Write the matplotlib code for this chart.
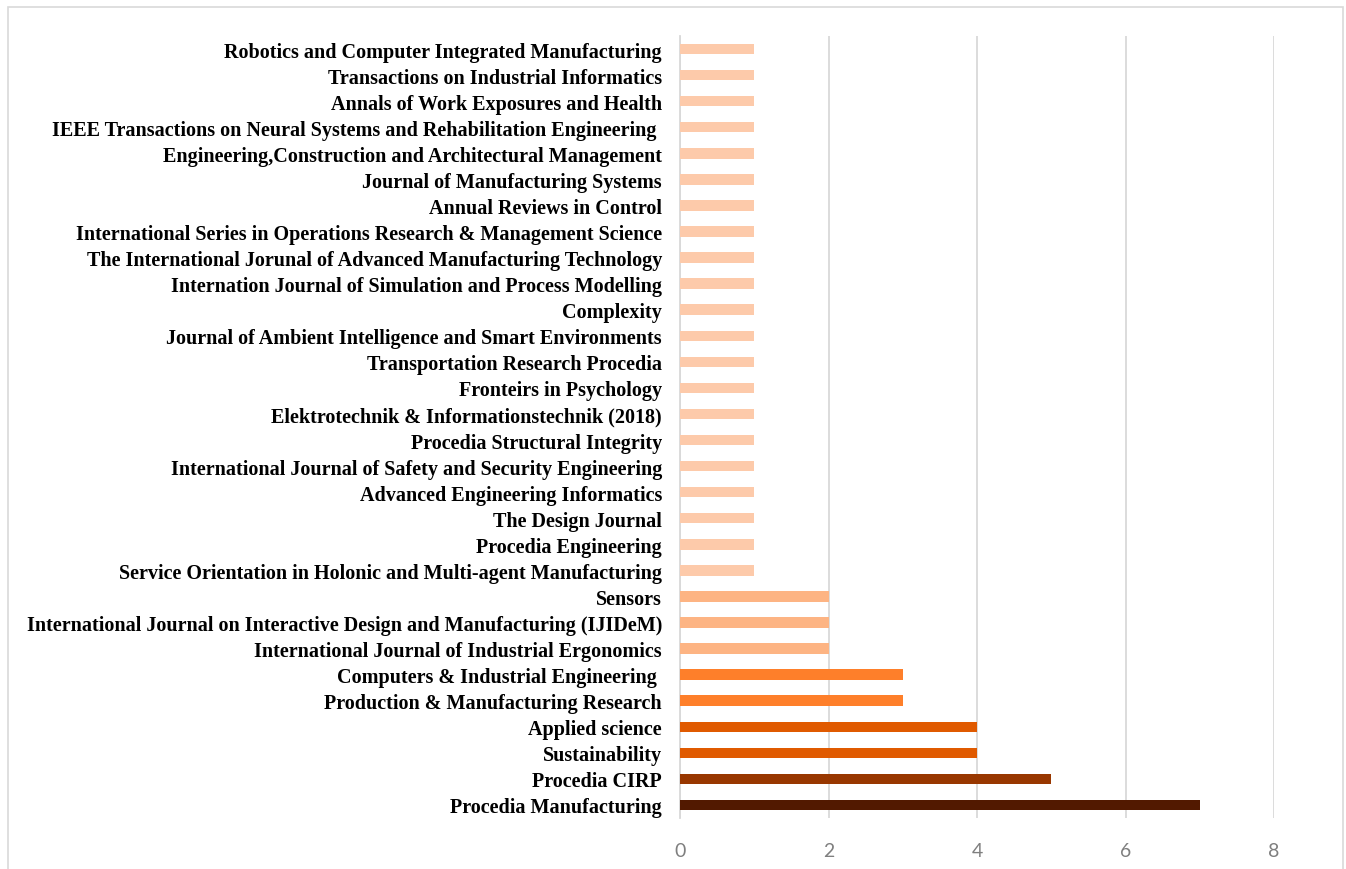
import matplotlib.pyplot as plt
from matplotlib.patches import Rectangle

# journals, bottom to top
journals = [
    'Procedia Manufacturing',
    'Procedia CIRP',
    'Sustainability',
    'Applied science',
    'Production & Manufacturing Research',
    'Computers & Industrial Engineering ',
    'International Journal of Industrial Ergonomics',
    'International Journal on Interactive Design and Manufacturing (IJIDeM)',
    'Sensors',
    'Service Orientation in Holonic and Multi-agent Manufacturing',
    'Procedia Engineering',
    'The Design Journal',
    'Advanced Engineering Informatics',
    'International Journal of Safety and Security Engineering',
    'Procedia Structural Integrity',
    'Elektrotechnik & Informationstechnik (2018)',
    'Fronteirs in Psychology',
    'Transportation Research Procedia',
    'Journal of Ambient Intelligence and Smart Environments',
    'Complexity',
    'Internation Journal of Simulation and Process Modelling',
    'The International Jorunal of Advanced Manufacturing Technology',
    'International Series in Operations Research & Management Science',
    'Annual Reviews in Control',
    'Journal of Manufacturing Systems',
    'Engineering,Construction and Architectural Management',
    'IEEE Transactions on Neural Systems and Rehabilitation Engineering ',
    'Annals of Work Exposures and Health',
    'Transactions on Industrial Informatics',
    'Robotics and Computer Integrated Manufacturing',
]
counts = [7, 5, 4, 4, 3, 3, 2, 2, 2] + [1] * 21
x_ticks = [0, 2, 4, 6, 8]

# colour by count
palette = {1: '#FDCAAA', 2: '#FDB483', 3: '#FE7F2A', 4: '#E05A00', 5: '#983700', 7: '#521900'}
colors = [palette[c] for c in counts]

fig = plt.figure(figsize=(13.46, 8.7), dpi=100)
ax = fig.add_axes([680 / 1346, 1 - 819 / 870, (1274 - 680) / 1346, (819 - 37) / 870])

y = list(range(len(journals)))
ax.barh(y, counts, height=0.4, color=colors, zorder=3)

ax.set_xlim(0, 8)
ax.set_ylim(-0.5, len(journals) - 0.5)
ax.set_xticks(x_ticks)
ax.set_xticklabels([str(t) for t in x_ticks], fontsize=14, color='#7f7f7f', family='Lato')
ax.set_yticks(y)
ax.set_yticklabels(journals, fontsize=14.5, fontweight='bold', family='Liberation Serif')
ax.tick_params(axis='x', length=0, pad=17)
ax.tick_params(axis='y', length=0, pad=13)
ax.grid(axis='x', color='#d9d9d9', linewidth=1.3, zorder=0)

for s in ['top', 'right', 'bottom']:
    ax.spines[s].set_visible(False)
ax.spines['left'].set_color('#d9d9d9')
ax.spines['left'].set_linewidth(1.3)

# outer chart border
fig.patches.append(Rectangle((8 / 1346, -0.01), (1343 - 8) / 1346, 1 - 8 / 870 + 0.01,
                             transform=fig.transFigure, fill=False,
                             edgecolor='#d9d9d9', linewidth=1.2))

fig.savefig('out.png', dpi=100)
